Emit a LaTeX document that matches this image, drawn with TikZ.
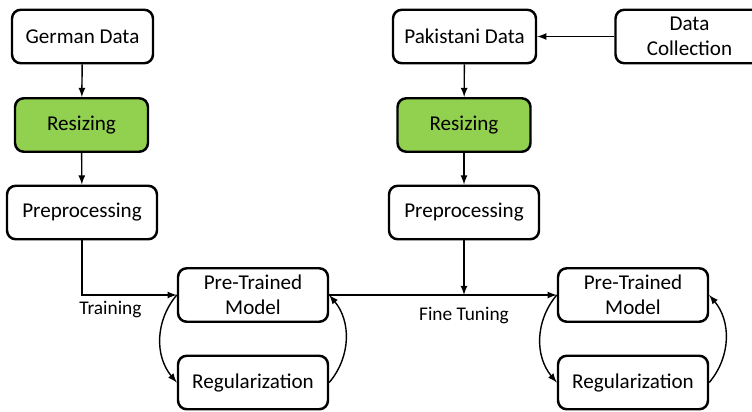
\documentclass[tikz,border=0pt]{standalone}
\usepackage{fontspec}
\setmainfont{Carlito}
\definecolor{resizegreen}{HTML}{92D050}
\begin{document}
\begin{tikzpicture}[
  box/.style={draw, line width=1.4pt, rounded corners=5pt, minimum height=1.07cm, align=center, font=\fontsize{12}{14}\selectfont},
  resize/.style={box, fill=resizegreen, minimum width=2.66cm},
  line/.style={thick, -latex},
  tag/.style={font=\fontsize{11}{13}\selectfont}
]
\useasboundingbox (0,0) rectangle (15.04,-8.22);
\node[box, minimum width=2.82cm] (germanData) at (1.65,-0.73) {German Data};
\node[resize] (resizeL) at (1.63,-2.5) {Resizing};
\node[box, minimum width=3cm] (preprocL) at (1.64,-4.25) {Preprocessing};
\node[box, minimum width=2.86cm] (pakData) at (9.29,-0.73) {Pakistani Data};
\node[resize] (resizeR) at (9.28,-2.5) {Resizing};
\node[box, minimum width=3cm] (preprocR) at (9.28,-4.25) {Preprocessing};
\node[box, minimum width=2.96cm] (dataColl) at (13.79,-0.73) {Data\\Collection};
\foreach \s/\x in {L/5.06, R/12.66}
{
	\node[box, minimum width=3cm] (model\s) at (\x,-5.9) {Pre-Trained\\Model};
	\node[box, minimum width=3cm] (reg\s) at (\x,-7.65) {Regularization};
	\draw[line] (model\s.west) to[out=230, in=130] (reg\s.west);
	\draw[line] (reg\s.east) to[out=50, in=-50] (model\s.east);
}
\coordinate (join) at (preprocR.south |- modelL.east);
\draw[line] (germanData) -- (resizeL);
\draw[line] (resizeL) -- (preprocL);
\draw[line] (dataColl) -- (pakData);
\draw[line] (pakData) -- (resizeR);
\draw[line] (resizeR) -- (preprocR);
\draw[line] (preprocL.south) |- node[tag, pos=0.65, below] {Training} (modelL.west);
\draw[line] (modelL.east) -- (modelR.west);
\draw[line] (preprocR.south) -- (join) node[tag, below=3pt] {Fine Tuning};
\end{tikzpicture}
\end{document}
